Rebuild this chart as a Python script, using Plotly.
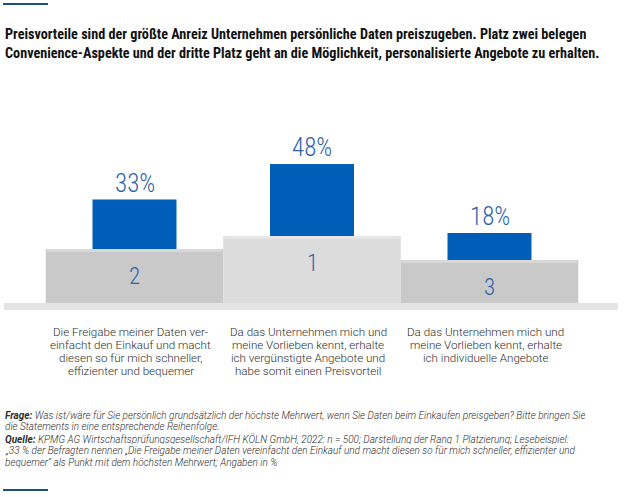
import plotly.graph_objects as go

# --- data -------------------------------------------------------------
ranks = [2, 1, 3]
values = [33, 48, 18]
statements = [
    ["Die Freigabe meiner Daten ver-", "einfacht den Einkauf und macht",
     "diesen so für mich schneller,", "effizienter und bequemer"],
    ["Da das Unternehmen mich und", "meine Vorlieben kennt, erhalte",
     "ich vergünstigte Angebote und", "habe somit einen Preisvorteil"],
    ["Da das Unternehmen mich und", "meine Vorlieben kennt, erhalte",
     "ich individuelle Angebote"],
]
title_lines = [
    "Preisvorteile sind der größte Anreiz Unternehmen persönliche Daten preiszugeben. Platz zwei belegen",
    "Convenience-Aspekte und der dritte Platz geht an die Möglichkeit, personalisierte Angebote zu erhalten.",
]
note_lines = [
    "<b>Frage:</b> Was ist/wäre für Sie persönlich grundsätzlich der höchste Mehrwert, wenn Sie Daten beim Einkaufen preisgeben? Bitte bringen Sie",
    "die Statements in eine entsprechende Reihenfolge.",
    "<b>Quelle:</b> KPMG AG Wirtschaftsprüfungsgesellschaft/IFH KÖLN GmbH, 2022: n = 500; Darstellung der Rang 1 Platzierung; Lesebeispiel:",
    "„33 % der Befragten nennen „Die Freigabe meiner Daten vereinfacht den Einkauf und macht diesen so für mich schneller, effizienter und",
    "bequemer“ als Punkt mit dem höchsten Mehrwert; Angaben in %",
]

# --- style ------------------------------------------------------------
W, H = 630, 497
L, R, T, B = 4, 12, 130, 187          # plot area: x 4..618, y 130..310
PX_PER_UNIT = 1.5                      # vertical px per percent point
SLOT_PX = 177.5                        # podium width in px
PODIUM_PX = {1: 67, 2: 54, 3: 43}      # podium heights by rank
PODIUM_COL = {1: "#dcdcdc", 2: "#c9c9c9", 3: "#c9c9c9"}
PODIUM_TOP = {1: "#e6e6e6", 2: "#d8d8d8", 3: "#d8d8d8"}
BLUE = "#005eb8"
LABEL_BLUE = "#2d64ab"
COND = "Roboto Condensed, Roboto, sans-serif"
BODY = "Roboto, sans-serif"

plot_w = W - L - R
plot_h = H - T - B


def pxx(p):
    return (p - L) / plot_w


def pxy(p):
    return (H - B - p) / plot_h


x = list(range(len(values)))
podium = [PODIUM_PX[r] / PX_PER_UNIT for r in ranks]
edge = 3 / PX_PER_UNIT

fig = go.Figure()
fig.add_trace(go.Bar(
    x=x, y=podium, width=1,
    marker=dict(color=[PODIUM_COL[r] for r in ranks], line=dict(width=0)),
    hoverinfo="skip",
))
# lighter top edge of each podium step
fig.add_trace(go.Bar(
    x=x, y=[edge] * len(x), base=[p - edge for p in podium], width=0.985,
    marker=dict(color=[PODIUM_TOP[r] for r in ranks], line=dict(width=0)),
    hoverinfo="skip",
))
fig.add_trace(go.Bar(
    x=x, y=values, base=podium, width=84 / SLOT_PX,
    marker=dict(color=BLUE, line=dict(width=0)),
    hoverinfo="skip",
))

# value labels and rank numbers
for i, (v, r, b) in enumerate(zip(values, ranks, podium)):
    fig.add_annotation(x=i, y=b + v, text=f"{v}%", showarrow=False,
                       yanchor="bottom", yshift=0,
                       font=dict(family=COND, size=25, weight=300, color=LABEL_BLUE))
    fig.add_annotation(x=i, y=b, text=str(r), showarrow=False,
                       yanchor="middle", yshift=-27,
                       font=dict(family=COND, size=23, weight=300, color=LABEL_BLUE))
    for k, line in enumerate(statements[i]):
        fig.add_annotation(x=i, xshift=-4, yref="paper", y=pxy(331 + 13.1 * k),
                           text=line, showarrow=False, yanchor="middle", height=13,
                           font=dict(family=BODY, size=11.6, weight=300, color="#2e2e2e"))

# title
for k, line in enumerate(title_lines):
    fig.add_annotation(xref="paper", yref="paper", x=pxx(3), y=pxy(34 + 19 * k),
                       text=f"<b>{line}</b>", showarrow=False, height=18,
                       xanchor="left", yanchor="middle", align="left",
                       font=dict(family=COND, size=14.2, color="#111111"))

# footnote
for k, line in enumerate(note_lines):
    fig.add_annotation(xref="paper", yref="paper", x=pxx(3), y=pxy(415 + 11.8 * k),
                       text=f"<i>{line}</i>", showarrow=False, height=11,
                       xanchor="left", yanchor="middle", align="left",
                       font=dict(family=BODY, size=10, weight=300, color="#2e2e2e"))

# base plate and decorative rules
fig.add_shape(type="rect", xref="paper", yref="paper",
              x0=pxx(4), x1=pxx(618), y0=pxy(310), y1=pxy(303),
              fillcolor="#e4e4e4", line=dict(width=0), layer="below")
for yy in (4, 490):
    fig.add_shape(type="line", xref="paper", yref="paper",
                  x0=pxx(3), x1=pxx(48), y0=pxy(yy), y1=pxy(yy),
                  line=dict(color="#1e4f82", width=2))

fig.update_layout(
    width=W, height=H,
    margin=dict(l=L, r=R, t=T, b=B),
    barmode="overlay",
    showlegend=False,
    plot_bgcolor="white",
    paper_bgcolor="white",
    xaxis=dict(range=[-(134.5 - L) / SLOT_PX, 2 + (W - R - 489.5) / SLOT_PX],
               visible=False, fixedrange=True),
    yaxis=dict(range=[-(H - B - 303) / PX_PER_UNIT, (H - B - T - (H - B - 303)) / PX_PER_UNIT],
               visible=False, fixedrange=True),
)

fig.write_html("out.html", config={"displayModeBar": False},
               post_script="document.body.style.margin='0';")
